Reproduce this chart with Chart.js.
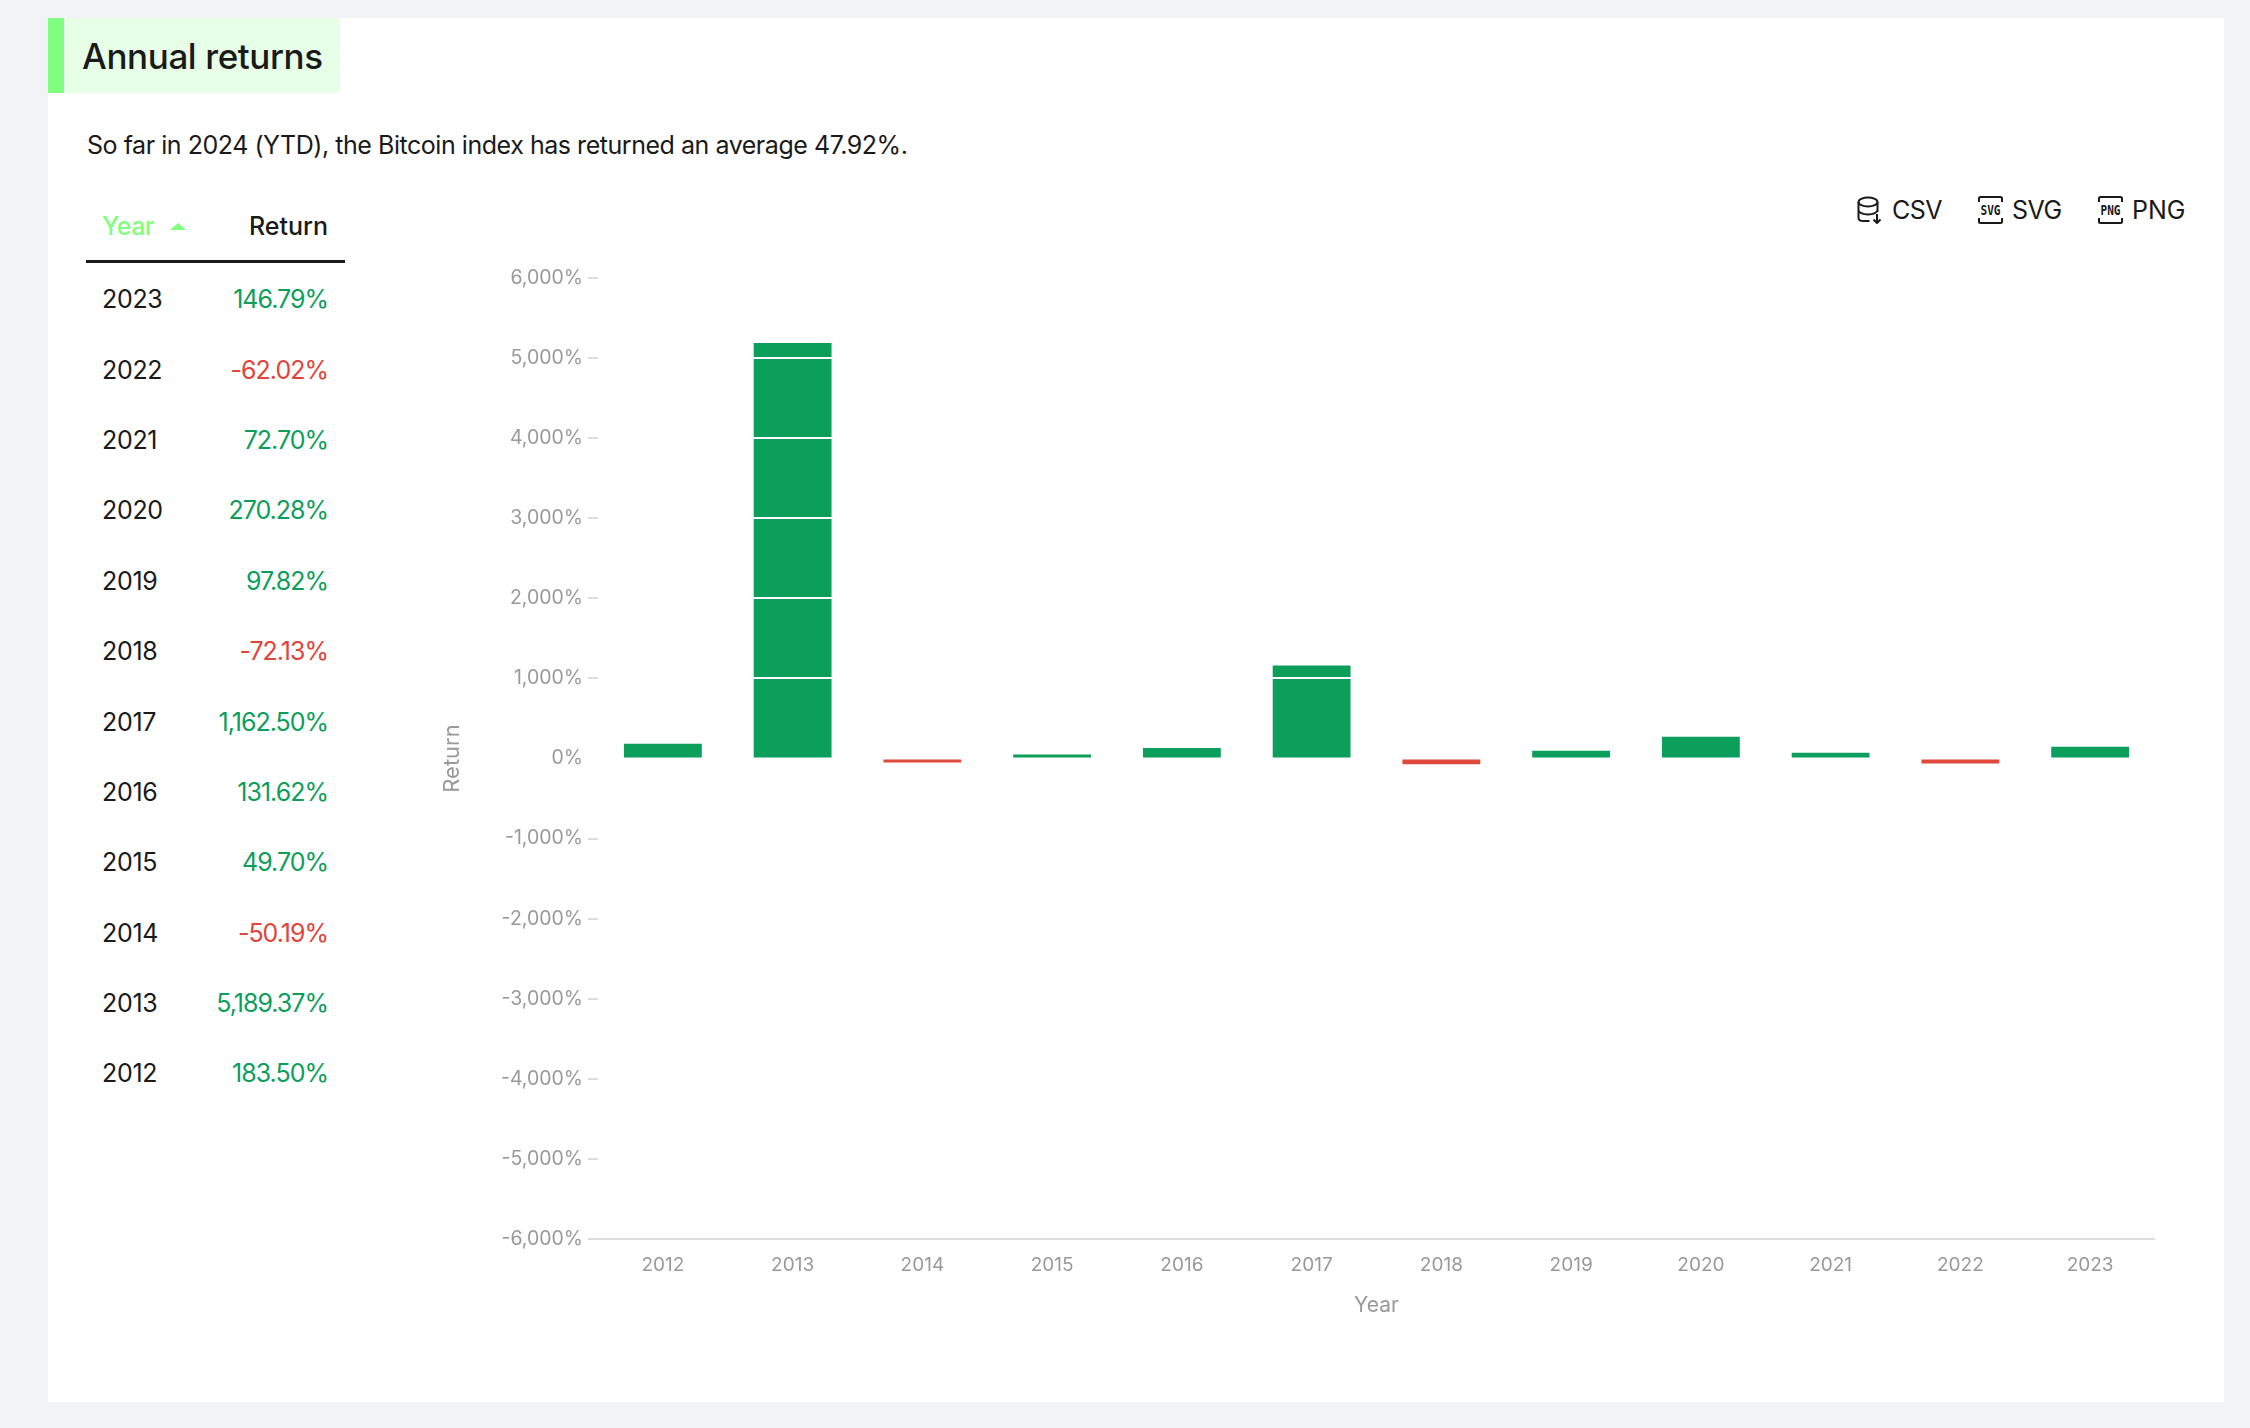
<!DOCTYPE html>
<html>
<head>
<meta charset="utf-8">
<title>Annual returns</title>
<script src="https://cdn.jsdelivr.net/npm/chart.js@4"></script>
<style>
  html, body { margin: 0; padding: 0; background: #f2f3f5; }
  body { width: 2250px; height: 1428px; position: relative; overflow: hidden; font-family: Inter, sans-serif; color: #1a1a1a; }
  #panel { position: absolute; left: 48px; top: 18px; width: 2176px; height: 1384px; background: #fff; }
  #heading { position: absolute; left: 48px; top: 18px; width: 292px; height: 75px; background: #e6ffe6; border-left: 16px solid #80ff80; box-sizing: border-box; font-size: 35px; font-weight: 500; letter-spacing: -0.4px; line-height: 77px; padding-left: 18px; white-space: nowrap; }
  #intro { position: absolute; left: 87px; top: 129px; font-size: 25px; letter-spacing: -0.46px; line-height: 32px; white-space: nowrap; }
  #returns { position: absolute; left: 86px; top: 195px; width: 259px; table-layout: fixed; border-collapse: collapse; font-size: 25px; }
  #returns th { height: 66px; padding: 0 16px 3px; box-sizing: border-box; font-weight: 500; text-align: left; border-bottom: 3px solid #1a1a1a; white-space: nowrap; }
  #returns th:first-child { color: #80ff80; letter-spacing: -0.5px; }
  #returns th:last-child, #returns td:last-child { text-align: right; padding-right: 17px; }
  #returns td { height: 70.4px; padding: 0 16px; white-space: nowrap; position: relative; top: 1.5px; letter-spacing: -0.3px; }
  #returns td:last-child { letter-spacing: -1px; }
  #returns .up { color: #0c9e5b; }
  #returns .down { color: #e0443a; }
  .arrow { display: inline-block; margin-left: 16px; vertical-align: 5px; width: 0; height: 0; border-left: 8px solid transparent; border-right: 8px solid transparent; border-bottom: 7px solid #80ff80; }
  .export { position: absolute; top: 195px; height: 30px; display: flex; align-items: center; font-size: 25px; letter-spacing: -0.5px; white-space: nowrap; }
  .export svg { margin-right: 9px; }
  #chart { position: absolute; left: 430px; top: 240px; }
</style>
</head>
<body>
<div id="panel"></div>
<div id="heading">Annual returns</div>
<div id="intro">So far in 2024 (YTD), the Bitcoin index has returned an average 47.92%.</div>
<table id="returns">
  <colgroup><col style="width:90px"><col style="width:169px"></colgroup>
  <thead><tr><th>Year<span class="arrow"></span></th><th>Return</th></tr></thead>
  <tbody id="rows"></tbody>
</table>

<div class="export" style="left:1857px">
  <svg width="26" height="28" viewBox="0 0 26 28" fill="none" stroke="#1a1a1a" stroke-width="2">
    <ellipse cx="11" cy="6" rx="9.5" ry="4.5"/>
    <path d="M1.5 6v16c0 2 2 3 5 3h6M20.500 6v10M1.500 14c0 2.500 4 4.500 9.500 4.500s9.500-2 9.500-4.500M20 18v9M16.500 23.500l3.500 3.500 3.500-3.500"/>
  </svg>CSV
</div>
<div class="export" style="left:1978px">
  <svg width="25" height="28" viewBox="0 0 25 28" fill="none" stroke="#1a1a1a" stroke-width="2">
    <path d="M1 6V2.500Q1 1 2.500 1h20Q24 1 24 2.500V6M1 22v3.500Q1 27 2.500 27h20q1.500 0 1.500-1.500V22"/>
    <text x="12.500" y="19" text-anchor="middle" textLength="20" lengthAdjust="spacingAndGlyphs" font-family="DejaVu Sans Mono" font-size="14" font-weight="700" letter-spacing="0" fill="#1a1a1a" stroke="none">SVG</text>
  </svg>SVG
</div>
<div class="export" style="left:2098px; letter-spacing:0">
  <svg width="25" height="28" viewBox="0 0 25 28" fill="none" stroke="#1a1a1a" stroke-width="2">
    <path d="M1 6V2.500Q1 1 2.500 1h20Q24 1 24 2.500V6M1 22v3.500Q1 27 2.500 27h20q1.500 0 1.500-1.500V22"/>
    <text x="12.500" y="19" text-anchor="middle" textLength="20" lengthAdjust="spacingAndGlyphs" font-family="DejaVu Sans Mono" font-size="14" font-weight="700" letter-spacing="0" fill="#1a1a1a" stroke="none">PNG</text>
  </svg>PNG
</div>

<canvas id="chart" width="1760" height="1120"></canvas>

<script>
const years = ["2012", "2013", "2014", "2015", "2016", "2017", "2018", "2019", "2020", "2021", "2022", "2023"];
const returns = [183.50, 5189.37, -50.19, 49.70, 131.62, 1162.50, -72.13, 97.82, 270.28, 72.70, -62.02, 146.79];

const GREEN = "#0c9e5b";
const RED = "#e04a3c";
const TICK_GREY = "#999999";
const LINE_GREY = "#dddddd";
const NONE = "rgba(0,0,0,0)";
const AXIS_FONT = { family: "Inter", size: 19 };

const fmt = (v, digits) => v.toLocaleString("en-US", { minimumFractionDigits: digits, maximumFractionDigits: digits });

// table is newest first
const rows = document.getElementById("rows");
for (let i = years.length - 1; i >= 0; i--) {
  const tr = document.createElement("tr");
  const cls = returns[i] < 0 ? "down" : "up";
  tr.innerHTML = "<td>" + years[i] + "</td><td class='" + cls + "'>" + fmt(returns[i], 2) + "%</td>";
  rows.appendChild(tr);
}

function gridColor(ctx) {
  if (ctx.tick.value === -6000) return LINE_GREY;
  return ctx.tick.value === 0 ? NONE : "#ffffff";
}

new Chart(document.getElementById("chart"), {
  type: "bar",
  data: {
    labels: years,
    datasets: [{
      label: "Return",
      data: returns,
      backgroundColor: returns.map((v) => (v < 0 ? RED : GREEN)),
      borderWidth: 0,
      barPercentage: 0.6,
      categoryPercentage: 1,
    }],
  },
  options: {
    responsive: false,
    animation: false,
    layout: { padding: { top: 38, right: 35 } },
    plugins: { legend: { display: false }, tooltip: { enabled: false } },
    scales: {
      x: {
        afterFit: (scale) => { scale.height = 121; },
        grid: { display: false },
        border: { display: false },
        ticks: { color: TICK_GREY, font: AXIS_FONT, padding: 7, maxRotation: 0 },
        title: { display: true, text: "Year", color: TICK_GREY, font: { family: "Inter", size: 21 }, padding: { top: 0, bottom: 42 } },
      },
      y: {
        min: -6000,
        max: 6000,
        afterFit: (scale) => { scale.width = 168; },
        border: { display: false },
        grid: {
          z: 1,
          lineWidth: 2,
          tickLength: 10,
          tickWidth: 2,
          color: gridColor,
          tickColor: (ctx) => (ctx.tick.value === 0 ? NONE : LINE_GREY),
        },
        ticks: {
          stepSize: 1000,
          color: TICK_GREY,
          font: { family: "Inter", size: 19.500 },
          padding: 5,
          callback: (v) => fmt(v, 0) + "%",
        },
        title: { display: true, text: "Return", color: TICK_GREY, font: { family: "Inter", size: 22 }, padding: { top: 9, bottom: 0 } },
      },
    },
  },
});
</script>
</body>
</html>
